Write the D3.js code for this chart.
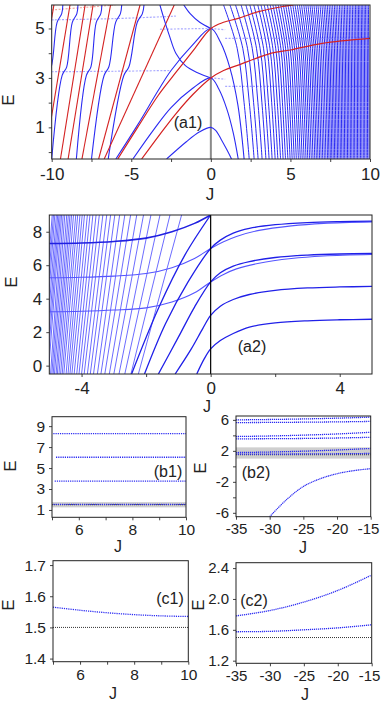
<!DOCTYPE html>
<html lang="en">
<head>
<meta charset="utf-8">
<title>Spectrum vs J</title>
<script src="https://cdn.jsdelivr.net/npm/d3@7"></script>
<style>
  body { margin: 0; background: #fff; }
  svg { display: block; font-family: Arial, "Liberation Sans", sans-serif; }
  .tick text { fill: #222; }
  .tick line { stroke: #444; }
  .lbl { fill: #222; }
</style>
</head>
<body>
<script>
// ---------- (a1) data, E ----------
var a1EBottom = -0.28, a1ETop = 5.95;
// steep lines on the left: J where they leave the bottom / reach the top
var a1LeftColor  = ["r", "b", "r", "b", "r", "r", "b", "r", "b", "r", "b", "r"];
var a1LeftBottom = [-11.5, -11.0, -10.45, -10.0, -9.45, -8.97, -8.45, -8.1, -7.5, -7.05, -6.45, -6.7];
var a1LeftTop    = [-9.86, -9.3, -8.85, -8.35, -7.9, -7.4, -6.85, -6.3, -5.6, -4.45, -4.2, -2.3];
// dense lines on the right
var a1RightBottom = [2.41, 2.72, 2.97, 3.22, 3.46, 3.66, 3.85, 4.04, 4.21, 4.38, 4.54, 4.69, 4.84, 4.98,
  5.11, 5.24, 5.37, 5.5, 5.62, 5.74, 5.86, 5.98, 6.09, 6.2, 6.31, 6.42, 6.53, 6.63, 6.73, 6.83, 6.93,
  7.03, 7.13, 7.23, 7.33, 7.42, 7.51, 7.6, 7.69, 7.78, 7.87, 7.96, 8.05, 8.14, 8.23, 8.32, 8.41, 8.5,
  8.59, 8.68, 8.77, 8.86, 8.95, 9.04, 9.13, 9.22, 9.31, 9.4, 9.49, 9.58, 9.67, 9.76, 9.85, 9.94];
var a1RightTop = [0.8, 1.2, 1.55, 1.9, 2.2, 2.45, 2.7, 2.95, 3.15, 3.35, 3.55, 3.73, 3.9, 4.07,
  4.23, 4.39, 4.55, 4.7, 4.85, 5.0, 5.15, 5.29, 5.43, 5.57, 5.7, 5.84, 5.97, 6.1, 6.23, 6.35, 6.48,
  6.61, 6.73, 6.86, 6.98, 7.1, 7.21, 7.32, 7.43, 7.54, 7.65, 7.76, 7.86, 7.97, 8.08, 8.18, 8.29, 8.39,
  8.49, 8.59, 8.69, 8.79, 8.89, 8.99, 9.09, 9.18, 9.27, 9.36, 9.45, 9.54, 9.63, 9.72, 9.81, 9.9];
var a1Red3 = [[-4.35, -0.28], [-3.2, 0.72], [-2.2, 1.55], [-1.1, 2.35], [0, 3], [0.8, 3.3], [1.72, 3.52],
  [3.81, 4.0], [5, 4.13], [7, 4.4], [10, 4.6]];
var a1Red5 = [[-5.85, -0.28], [-4.6, 1.0], [-3.3, 2.3], [-2.16, 3.25], [-1, 4.2], [0, 5], [0.8, 5.25],
  [1.72, 5.41], [3, 5.68], [4.44, 5.88], [5.2, 5.95]];
var a1Blue1 = [[-2.78, -0.28], [-1.54, 0.42], [-0.7, 0.82], [0, 1.0], [0.3, 0.88], [0.67, 0.49], [1.0, 0.1], [1.3, -0.28]];
var a1Blue3 = [[-4.9, -0.28], [-3.6, 0.9], [-2.5, 1.8], [-1.2, 2.55], [0, 3], [0.5, 2.55], [1.0, 1.75], [1.4, 0.8], [1.72, -0.28]];
var a1Blue5 = [[-5.97, -0.28], [-4.6, 1.1], [-3.3, 2.5], [-2.5, 3.3], [-1.2, 4.3], [0, 5], [0.6, 4.45], [1.2, 3.4], [1.7, 1.9], [2.09, -0.28]];
var a1Blue3Up = [[-3.2, 5.95], [-2.9, 5.3], [-2.6, 4.7], [-2.2, 4.0], [-1.6, 3.5], [-0.8, 3.2], [0, 3]];
var a1Blue5Up = [[-1.7, 5.95], [-1.3, 5.6], [-0.7, 5.25], [0, 5]];
// faint near-flat levels
var a1FaintBlue = [
  [[-10, 3.25], [-6, 3.27], [-2.6, 3.3]],
  [[-10, 5.35], [-6, 5.4], [-2.2, 5.5]],
  [[-3.2, 4.97], [-0.2, 5.0]],
  [[0, 5.0], [0.9, 4.95]],
  [[0, 3.0], [0.9, 2.95]],
  [[0.9, 4.6], [5, 4.6], [10, 4.62]],
  [[0.9, 2.66], [5, 2.66], [10, 2.66]]
];
var a1FaintRed = [[-10, 5.75], [-8, 5.85], [-6, 5.95]];

// ---------- (a2) data ----------
var a2SteepBottom = [-2.24, -2.47, -2.66, -2.84, -3.0, -3.14, -3.28, -3.4, -3.51, -3.63, -3.73, -3.82,
  -3.92, -4.0, -4.08, -4.15, -4.23, -4.3, -4.36, -4.42, -4.48, -4.55, -4.6, -4.65, -4.7, -4.75, -4.79,
  -4.84, -4.88, -4.92, -4.96, -5.03, -5.07, -5.11, -5.16, -5.2, -5.24, -5.28];
var a2SteepTop = [-0.9, -1.26, -1.57, -1.85, -2.08, -2.29, -2.48, -2.66, -2.82, -2.97, -3.1, -3.22,
  -3.34, -3.45, -3.55, -3.65, -3.74, -3.82, -3.91, -3.98, -4.05, -4.12, -4.18, -4.25, -4.31, -4.36,
  -4.41, -4.46, -4.52, -4.57, -4.62, -4.66, -4.7, -4.74, -4.78, -4.83, -4.87, -4.91];
var a2Branches = [
  [[-0.43, -0.5], [-0.2, 0.4], [0, 1], [0.3, 1.5], [0.7, 1.92], [1.2, 2.3], [2, 2.55], [3, 2.68], [4, 2.74], [5, 2.77]],
  [[-1.1, -0.5], [-0.6, 1.0], [-0.25, 2.2], [0, 3], [0.3, 3.55], [0.7, 3.95], [1.2, 4.25], [2, 4.5], [3, 4.64], [4, 4.7], [5, 4.73]],
  [[-1.62, -0.5], [-1.0, 1.7], [-0.5, 3.5], [0, 5], [0.3, 5.55], [0.7, 5.95], [1.2, 6.22], [2, 6.46], [3, 6.6], [4, 6.67], [5, 6.7]],
  [[-2.05, -0.5], [-1.4, 2.5], [-0.7, 5.0], [0, 7], [0.3, 7.5], [0.7, 7.92], [1.2, 8.2], [2, 8.42], [3, 8.55], [4, 8.61], [5, 8.64]],
  [[-2.45, -0.5], [-1.6, 3.5], [-0.8, 6.6], [0, 9]]
];
var a2Flats = [
  [[-5, 3.22], [-4, 3.25], [-3, 3.32], [-2, 3.45], [-1.2, 3.8], [-0.5, 4.35], [0, 5], [0.4, 5.45], [0.8, 5.78], [1.5, 6.12], [2.5, 6.4], [3.5, 6.55], [5, 6.64]],
  [[-5, 5.25], [-4, 5.28], [-3, 5.35], [-2, 5.5], [-1.2, 5.85], [-0.5, 6.4], [0, 7], [0.4, 7.4], [0.8, 7.72], [1.5, 8.08], [2.5, 8.35], [3.5, 8.5], [5, 8.59]],
  [[-5, 7.3], [-4, 7.33], [-3, 7.42], [-2, 7.62], [-1.2, 8.0], [-0.5, 8.5], [0, 9]]
];

// ---------- (b1), (b2) data ----------
var b1Start = [5.05, 5.1, 5.15, 5.05];
var b1Levels = [1.54, 3.76, 6.03, 8.28];
var b2J = [-35, -30, -25, -20, -15];
var b2Levels = [
  [6.0, 6.05, 6.12, 6.22, 6.35],
  [5.65, 5.67, 5.7, 5.74, 5.8],
  [3.85, 3.92, 4.03, 4.18, 4.4],
  [3.55, 3.57, 3.6, 3.66, 3.75],
  [1.78, 1.85, 1.96, 2.11, 2.31],
  [1.575, 1.58, 1.6, 1.625, 1.665]
];
var b2LowJ = [-30, -27.5, -25, -22.5, -20, -17.5, -15];
var b2LowE = [-6.5, -4.3, -2.6, -1.6, -0.95, -0.55, -0.3];
var threshold = 1.5;
var b1Band = [1.25, 1.75];
var b2Band = [1.0, 2.45];

// ---------- (c1), (c2) data ----------
var c1J = [5, 6, 7, 8, 9, 10];
var c1Level = [1.565, 1.555, 1.547, 1.541, 1.537, 1.535];
var c2J = [-35, -30, -25, -20, -15];
var c2Upper = [1.78, 1.85, 1.96, 2.11, 2.31];
var c2Lower = [1.575, 1.58, 1.6, 1.625, 1.665];

// ---------- drawing ----------
var BLUE = "#2b2bf2", RED = "#d42222", FAINT = "#a9a9ff", FAINTRED = "#f0a8a0";
var svg = d3.select("body").append("svg").attr("width", 381).attr("height", 703);
var clipCount = 0;

function panel(p) {
  var x = d3.scaleLinear().domain(p.xDomain).range([p.left, p.right]);
  var y = d3.scaleLinear().domain(p.yDomain).range([p.bottom, p.top]);
  var id = "clip" + (clipCount++);
  svg.append("clipPath").attr("id", id).append("rect")
     .attr("x", p.left).attr("y", p.top)
     .attr("width", p.right - p.left).attr("height", p.bottom - p.top);
  var plot = svg.append("g").attr("clip-path", "url(#" + id + ")");

  var xAxis = d3.axisBottom(x).tickValues(p.xTicks).tickSize(3).tickSizeOuter(0).tickPadding(p.padX)
                .tickFormat(function (d) { return p.xLabels.indexOf(d) >= 0 ? p.fx(d) : ""; });
  var yAxis = d3.axisLeft(y).tickValues(p.yTicks).tickSize(3).tickSizeOuter(0).tickPadding(4)
                .tickFormat(function (d) { return p.yLabels.indexOf(d) >= 0 ? p.fy(d) : ""; });
  var gx = svg.append("g").attr("transform", "translate(0," + p.bottom + ")").call(xAxis);
  var gy = svg.append("g").attr("transform", "translate(" + p.left + ",0)").call(yAxis);
  [gx, gy].forEach(function (g) {
    g.select(".domain").remove();
    g.selectAll("text").style("font-size", p.font + "px");
  });
  var frame = svg.append("rect")
     .attr("x", p.left).attr("y", p.top)
     .attr("width", p.right - p.left).attr("height", p.bottom - p.top)
     .attr("fill", "none").attr("stroke", "#222").attr("stroke-width", 1);

  var line = d3.line().x(function (d) { return x(d[0]); }).y(function (d) { return y(d[1]); })
               .curve(d3.curveCatmullRom.alpha(0.5));
  return { x: x, y: y, plot: plot, line: line, frame: frame, gx: gx };
}

function label(txt, x, y, size, rotate) {
  var t = svg.append("text").attr("class", "lbl").attr("text-anchor", "middle")
             .style("font-size", size + "px").text(txt);
  if (rotate) t.attr("transform", "translate(" + x + "," + y + ") rotate(-90)");
  else t.attr("x", x).attr("y", y);
  return t;
}

var str = function (d) { return String(d); };
var fix1 = function (d) { return d.toFixed(1); };

// ----- (a1) -----
var a1 = panel({
  left: 51.7, right: 370, top: 5, bottom: 159,
  xDomain: [-10, 10], yDomain: [a1EBottom, a1ETop],
  xTicks: [-10, -7.5, -5, -2.5, 0, 2.5, 5, 7.5, 10], xLabels: [-10, -5, 0, 5, 10],
  yTicks: [0, 1, 2, 3, 4, 5], yLabels: [1, 3, 5], fx: str, fy: str, font: 17, padX: 6
});
a1.plot.append("line")
  .attr("x1", a1.x(0)).attr("x2", a1.x(0)).attr("y1", a1.y(a1ETop)).attr("y2", a1.y(a1EBottom))
  .attr("stroke", "#8a8a8a").attr("stroke-width", 2);

a1FaintBlue.forEach(function (pts) {
  a1.plot.append("path").attr("d", a1.line(pts)).attr("fill", "none")
    .attr("stroke", FAINT).attr("stroke-width", 1.2).attr("stroke-dasharray", "2,1.5");
});
a1.plot.append("path").attr("d", a1.line(a1FaintRed)).attr("fill", "none")
  .attr("stroke", FAINTRED).attr("stroke-width", 1.2).attr("stroke-dasharray", "2,1.5");

// right dense lines
a1RightBottom.forEach(function (jb, i) {
  var jt = a1RightTop[i];
  var pts = [[jt, a1ETop], [jt + 0.53 * (jb - jt), 4.2], [jt + 0.8 * (jb - jt), 2.0], [jb, a1EBottom]];
  a1.plot.append("path").attr("d", a1.line(pts)).attr("fill", "none")
    .attr("stroke", BLUE).attr("stroke-width", 1);
});

// left steep lines (blue ones jog sideways at the flat levels)
a1LeftBottom.forEach(function (jb, i) {
  var jt = a1LeftTop[i];
  var blue = a1LeftColor[i] === "b";
  var pts;
  if (blue) {
    var shiftE = [a1EBottom, 3.1, 3.45, 5.25, 5.6, a1ETop];
    var shiftJ = [0, 0, 0.22, 0.22, 0.44, 0.44];
    pts = shiftE.map(function (e, k) {
      var f = (e - a1EBottom) / (a1ETop - a1EBottom);
      return [jb + f * (jt - 0.44 - jb) + shiftJ[k], e];
    });
  } else {
    pts = [[jb, a1EBottom], [jt, a1ETop]];
  }
  a1.plot.append("path").attr("d", a1.line(pts)).attr("fill", "none")
    .attr("stroke", blue ? BLUE : RED).attr("stroke-width", 1.1);
});

[a1Blue1, a1Blue3, a1Blue5, a1Blue3Up, a1Blue5Up].forEach(function (pts) {
  a1.plot.append("path").attr("d", a1.line(pts)).attr("fill", "none")
    .attr("stroke", BLUE).attr("stroke-width", 1.1);
});
[a1Red3, a1Red5].forEach(function (pts) {
  a1.plot.append("path").attr("d", a1.line(pts)).attr("fill", "none")
    .attr("stroke", RED).attr("stroke-width", 1.2);
});
label("(a1)", 188, 128, 16);
label("E", 14, 100, 17, true);
label("J", 210, 200, 17);

// ----- (a2) -----
var a2 = panel({
  left: 49.3, right: 372, top: 215, bottom: 374,
  xDomain: [-5, 5], yDomain: [-0.5, 9],
  xTicks: [-4, -2, 0, 2, 4], xLabels: [-4, 0, 4],
  yTicks: [0, 2, 4, 6, 8], yLabels: [0, 2, 4, 6, 8], fx: str, fy: str, font: 17, padX: 5
});
a2SteepBottom.forEach(function (jb, i) {
  a2.plot.append("path").attr("d", a2.line([[jb, -0.5], [a2SteepTop[i], 9]])).attr("fill", "none")
    .attr("stroke", "#4646ff").attr("stroke-width", 0.8);
});
a2Flats.forEach(function (pts, i) {
  a2.plot.append("path").attr("d", a2.line(pts)).attr("fill", "none")
    .attr("stroke", i === 2 ? "#2020e0" : "#5555ff").attr("stroke-width", i === 2 ? 1.6 : 1.1);
});
a2Branches.forEach(function (pts) {
  a2.plot.append("path").attr("d", a2.line(pts)).attr("fill", "none")
    .attr("stroke", "#2020e8").attr("stroke-width", 1.3);
});
a2.plot.append("line")
  .attr("x1", a2.x(0)).attr("x2", a2.x(0)).attr("y1", a2.y(9)).attr("y2", a2.y(-0.5))
  .attr("stroke", "#000").attr("stroke-width", 1.2);
label("(a2)", 252, 352, 16);
label("E", 17, 282, 17, true);
label("J", 207, 412, 16);

// ----- (b1) -----
var b1 = panel({
  left: 52, right: 186, top: 416.7, bottom: 517.3,
  xDomain: [5, 10], yDomain: [0.3, 9.9],
  xTicks: [5, 6, 7, 8, 9, 10], xLabels: [6, 8, 10],
  yTicks: [1, 3, 5, 7, 9], yLabels: [1, 3, 5, 7, 9], fx: str, fy: str, font: 15.5, padX: 4
});
b1.plot.append("rect").attr("x", b1.x(5)).attr("width", b1.x(10) - b1.x(5))
  .attr("y", b1.y(b1Band[1])).attr("height", b1.y(b1Band[0]) - b1.y(b1Band[1]))
  .attr("fill", "#cfcfcf");
b1.plot.append("path").attr("d", b1.line([[5, threshold], [10, threshold]]))
  .attr("stroke", "#333").attr("stroke-width", 1).attr("stroke-dasharray", "1,1");
b1Levels.forEach(function (e, i) {
  b1.plot.append("path").attr("d", b1.line([[b1Start[i], e], [10, e]])).attr("fill", "none")
    .attr("stroke", BLUE).attr("stroke-width", 1.3).attr("stroke-dasharray", "1.2,1");
});
label("(b1)", 168, 477, 16);
label("E", 16, 466, 17, true);
label("J", 118, 552, 16);

// ----- (b2) -----
var b2 = panel({
  left: 236, right: 370.7, top: 416, bottom: 516.7,
  xDomain: [-35, -15], yDomain: [-6.5, 6.5],
  xTicks: [-35, -30, -25, -20, -15], xLabels: [-35, -30, -25, -20, -15],
  yTicks: [-6, -4, -2, 0, 2, 4, 6], yLabels: [-6, -2, 2, 6], fx: str, fy: str, font: 15, padX: 4
});
b2.plot.append("rect").attr("x", b2.x(-35)).attr("width", b2.x(-15) - b2.x(-35))
  .attr("y", b2.y(b2Band[1])).attr("height", b2.y(b2Band[0]) - b2.y(b2Band[1]))
  .attr("fill", "#cfcfcf");
b2.plot.append("path").attr("d", b2.line([[-35, threshold], [-15, threshold]]))
  .attr("stroke", "#333").attr("stroke-width", 1).attr("stroke-dasharray", "1,1");
b2Levels.forEach(function (vals) {
  var pts = b2J.map(function (j, k) { return [j, vals[k]]; });
  b2.plot.append("path").attr("d", b2.line(pts)).attr("fill", "none")
    .attr("stroke", BLUE).attr("stroke-width", 1.3).attr("stroke-dasharray", "1.2,0.8");
});
b2.plot.append("path").attr("d", b2.line(b2LowJ.map(function (j, k) { return [j, b2LowE[k]]; })))
  .attr("fill", "none").attr("stroke", BLUE).attr("stroke-width", 1.2).attr("stroke-dasharray", "1.2,0.6");
label("(b2)", 256, 478, 16);
label("E", 206, 468, 17, true);
label("J", 303, 553, 16);

// ----- (c1) -----
var c1 = panel({
  left: 53, right: 188.3, top: 560.7, bottom: 661.7,
  xDomain: [5, 10], yDomain: [1.39, 1.714],
  xTicks: [5, 6, 7, 8, 9, 10], xLabels: [6, 8, 10],
  yTicks: [1.4, 1.5, 1.6, 1.7], yLabels: [1.4, 1.5, 1.6, 1.7], fx: str, fy: fix1, font: 15.5, padX: 4
});
c1.plot.append("path").attr("d", c1.line([[5, threshold], [10, threshold]]))
  .attr("stroke", "#333").attr("stroke-width", 1).attr("stroke-dasharray", "1,1");
c1.plot.append("path").attr("d", c1.line(c1J.map(function (j, k) { return [j, c1Level[k]]; })))
  .attr("fill", "none").attr("stroke", BLUE).attr("stroke-width", 1.3).attr("stroke-dasharray", "1.2,1");
label("(c1)", 170, 604, 16);
label("E", 14, 605, 17, true);
label("J", 113, 699, 16);

// ----- (c2) -----
var c2 = panel({
  left: 236, right: 371.7, top: 562.7, bottom: 663.3,
  xDomain: [-35, -15], yDomain: [1.166, 2.47],
  xTicks: [-35, -30, -25, -20, -15], xLabels: [-35, -30, -25, -20, -15],
  yTicks: [1.2, 1.6, 2.0, 2.4], yLabels: [1.2, 1.6, 2.0, 2.4], fx: str, fy: fix1, font: 15, padX: 4
});
c2.plot.append("path").attr("d", c2.line([[-35, threshold], [-15, threshold]]))
  .attr("stroke", "#333").attr("stroke-width", 1).attr("stroke-dasharray", "1,1");
[c2Upper, c2Lower].forEach(function (vals) {
  c2.plot.append("path").attr("d", c2.line(c2J.map(function (j, k) { return [j, vals[k]]; })))
    .attr("fill", "none").attr("stroke", BLUE).attr("stroke-width", 1.3).attr("stroke-dasharray", "1.2,0.8");
});
label("(c2)", 254, 606, 16);
label("E", 204, 605, 17, true);
label("J", 305, 700, 16);

// keep the last x label of the right panels inside the window
[b2, c2].forEach(function (p) {
  p.gx.selectAll(".tick").filter(function (d) { return d === -15; })
    .select("text").attr("text-anchor", "end").attr("dx", "0.55em");
});
</script>
</body>
</html>
